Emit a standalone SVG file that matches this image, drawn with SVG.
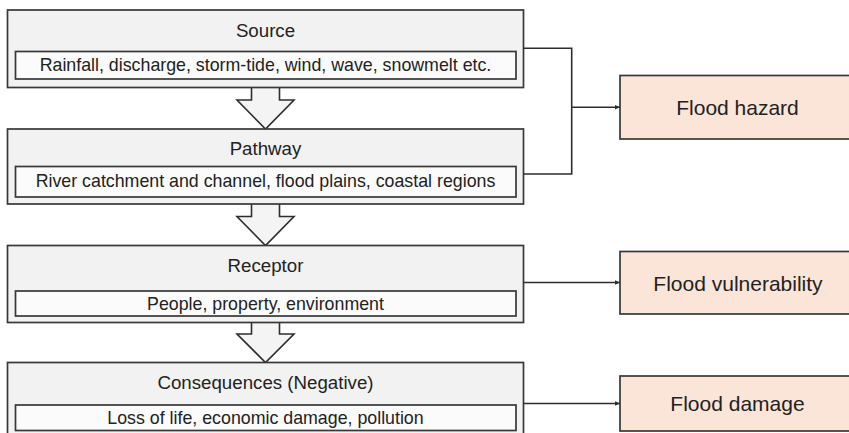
<svg xmlns="http://www.w3.org/2000/svg" width="849" height="433" viewBox="0 0 849 433">
  <style>
    .outer { fill: #f2f2f2; stroke: #383838; stroke-width: 1.7; }
    .inner { fill: #fbfbfb; stroke: #383838; stroke-width: 1.7; }
    .result { fill: #fbe5d8; stroke: #383838; stroke-width: 1.7; }
    .flow { fill: #f4f4f4; stroke: #2e2e2e; stroke-width: 1.6; stroke-linejoin: miter; }
    .title { font-family: "Liberation Sans", Arial, sans-serif; font-size: 18.7px; fill: #222; text-anchor: middle; }
    .sub { font-family: "Liberation Sans", Arial, sans-serif; font-size: 17.8px; fill: #222; text-anchor: middle; }
    .label { font-family: "Liberation Sans", Arial, sans-serif; font-size: 21px; fill: #222; text-anchor: middle; }
    .link { fill: none; stroke: #2e2e2e; stroke-width: 1.6; }
  </style>
  <defs>
    <marker id="tip" markerWidth="6" markerHeight="6" refX="5" refY="3" orient="auto" markerUnits="userSpaceOnUse">
      <path d="M0,0.8 L5,3 L0,5.2 Z" fill="#2e2e2e"/>
    </marker>
  </defs>
  <rect width="849" height="433" fill="#ffffff"/>

  <!-- block arrows between stages -->
  <g id="flow-arrows">
    <path class="flow" d="M251.5,87.5 V100 H237 L265.5,129 L294,100 H279.5 V87.5"/>
    <path class="flow" d="M251.5,204 V216.5 H237 L265.5,245.5 L294,216.5 H279.5 V204"/>
    <path class="flow" d="M251.5,322.5 V334 H237 L265.5,362.5 L294,334 H279.5 V322.5"/>
  </g>

  <g id="source">
    <rect class="outer" x="7.5" y="10" width="516" height="77.5"/>
    <text class="title" x="265.5" y="37">Source</text>
    <rect class="inner" x="15.5" y="51.5" width="500.5" height="27.5"/>
    <text class="sub" x="265.5" y="71">Rainfall, discharge, storm-tide, wind, wave, snowmelt etc.</text>
  </g>

  <g id="pathway">
    <rect class="outer" x="7.5" y="129" width="516" height="75"/>
    <text class="title" x="265.5" y="155">Pathway</text>
    <rect class="inner" x="15.5" y="166.5" width="500.5" height="30.5"/>
    <text class="sub" x="265.5" y="187">River catchment and channel, flood plains, coastal regions</text>
  </g>

  <g id="receptor">
    <rect class="outer" x="7.5" y="245.5" width="516" height="77"/>
    <text class="title" x="265.5" y="272">Receptor</text>
    <rect class="inner" x="15.5" y="291" width="500.5" height="25"/>
    <text class="sub" x="265.5" y="310">People, property, environment</text>
  </g>

  <g id="consequences">
    <rect class="outer" x="7.5" y="362.5" width="516" height="80"/>
    <text class="title" x="265.5" y="388.5">Consequences (Negative)</text>
    <rect class="inner" x="15.5" y="405" width="500.5" height="25.5"/>
    <text class="sub" x="265.5" y="423.5">Loss of life, economic damage, pollution</text>
  </g>

  <g id="flood-hazard">
    <rect class="result" x="620" y="75.5" width="232" height="63.5"/>
    <text class="label" x="737.5" y="115">Flood hazard</text>
  </g>

  <g id="flood-vulnerability">
    <rect class="result" x="620" y="251.5" width="232" height="62.5"/>
    <text class="label" x="738" y="291">Flood vulnerability</text>
  </g>

  <g id="flood-damage">
    <rect class="result" x="620" y="376" width="232" height="55"/>
    <text class="label" x="737.5" y="411">Flood damage</text>
  </g>

  <!-- connectors from stages to outcomes -->
  <g id="connectors">
    <path class="link" d="M523.5,48.3 H571.7 V174 H523.5"/>
    <path class="link" d="M571.7,107.3 H620" marker-end="url(#tip)"/>
    <path class="link" d="M523.5,282.5 H620" marker-end="url(#tip)"/>
    <path class="link" d="M523.5,403.5 H620" marker-end="url(#tip)"/>
  </g>
</svg>
